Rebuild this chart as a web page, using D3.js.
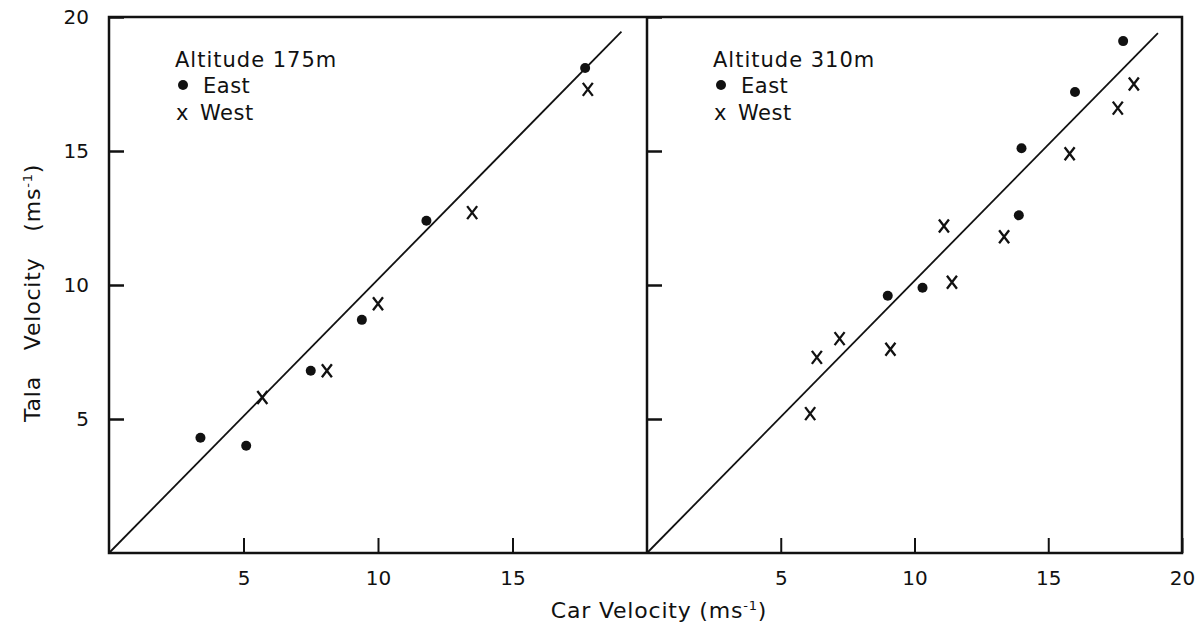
<!DOCTYPE html>
<html>
<head>
<meta charset="utf-8">
<script src="https://cdn.jsdelivr.net/npm/d3@7"></script>
<style>
  body { margin: 0; background: #fff; }
  svg text { font-family: "DejaVu Sans", sans-serif; fill: #111; }
</style>
</head>
<body>
<div id="chart"></div>
<script>
// Panel titles
var panelTitles = ["Altitude 175m", "Altitude 310m"];

// Altitude 175m: car velocity vs tala velocity
var eastCar175 = [3.4, 5.1, 7.5, 9.4, 11.8, 17.7];
var eastTala175 = [4.3, 4.0, 6.8, 8.7, 12.4, 18.1];
var westCar175 = [5.7, 8.1, 10.0, 13.5, 17.8];
var westTala175 = [5.8, 6.8, 9.3, 12.7, 17.3];
var fitCar175 = [0, 19.05];
var fitTala175 = [0, 19.45];

// Altitude 310m
var eastCar310 = [17.8, 16.0, 14.0, 13.9, 10.3, 9.0];
var eastTala310 = [19.1, 17.2, 15.1, 12.6, 9.9, 9.6];
var westCar310 = [18.2, 17.6, 15.8, 13.35, 11.1, 11.4, 9.1, 7.2, 6.35, 6.1];
var westTala310 = [17.5, 16.6, 14.9, 11.8, 12.2, 10.1, 7.6, 8.0, 7.3, 5.2];
var fitCar310 = [0, 19.1];
var fitTala310 = [0, 19.4];

// Tick values
var yTicks = [5, 10, 15, 20];
var xTicksLeft = [5, 10, 15];
var xTicksRight = [5, 10, 15, 20];

var svgW = 1199, svgH = 626;
var pLeft = 109, pMid = 647, pRight = 1182, pTop = 17, pBottom = 553;

var svg = d3.select("#chart").append("svg")
    .attr("width", svgW)
    .attr("height", svgH);

var y = d3.scaleLinear().domain([0, 20]).range([pBottom, pTop]);
var x1 = d3.scaleLinear().domain([0, 20]).range([pLeft, pMid]);
var x2 = d3.scaleLinear().domain([0, 20]).range([pMid, pRight]);

function zip(a, b) { return a.map(function (v, i) { return [v, b[i]]; }); }

var panels = [
  { x: x1, title: panelTitles[0], east: zip(eastCar175, eastTala175), west: zip(westCar175, westTala175),
    fit: zip(fitCar175, fitTala175), xticks: xTicksLeft, labels: true },
  { x: x2, title: panelTitles[1], east: zip(eastCar310, eastTala310), west: zip(westCar310, westTala310),
    fit: zip(fitCar310, fitTala310), xticks: xTicksRight, labels: false }
];

var line = d3.line();

panels.forEach(function (p) {
  var g = svg.append("g");

  // y axis (ticks point inward)
  var yAxis = d3.axisLeft(y).tickValues(yTicks).tickSizeInner(-15).tickSizeOuter(0).tickPadding(20);
  var ya = g.append("g").attr("transform", "translate(" + p.x(0) + ",0)").call(yAxis);
  ya.select(".domain").remove();
  ya.selectAll("text").style("font-size", "20px").attr("fill", "#111");
  if (!p.labels) ya.selectAll("text").remove();
  ya.selectAll("line").attr("stroke", "#111").attr("stroke-width", 2.5);

  // x axis
  var xAxis = d3.axisBottom(p.x).tickValues(p.xticks).tickSizeInner(-15).tickSizeOuter(0).tickPadding(18);
  var xa = g.append("g").attr("transform", "translate(0," + pBottom + ")").call(xAxis);
  xa.select(".domain").remove();
  xa.selectAll("text").style("font-size", "20px").attr("fill", "#111");
  xa.selectAll("line").attr("stroke", "#111").attr("stroke-width", 2);

  // fit line
  g.append("path")
    .attr("d", line(p.fit.map(function (d) { return [p.x(d[0]), y(d[1])]; })))
    .attr("fill", "none")
    .attr("stroke", "#111")
    .attr("stroke-width", 1.8);

  // east points
  g.selectAll(".east")
    .data(p.east)
    .enter().append("circle")
    .attr("cx", function (d) { return p.x(d[0]); })
    .attr("cy", function (d) { return y(d[1]); })
    .attr("r", 5)
    .attr("fill", "#111");

  // west points (x marks)
  g.selectAll(".west")
    .data(p.west)
    .enter().append("path")
    .attr("transform", function (d) { return "translate(" + p.x(d[0]) + "," + y(d[1]) + ")"; })
    .attr("d", "M-5,-6.5L5,6.5M5,-6.5L-5,6.5")
    .attr("stroke", "#111")
    .attr("stroke-width", 2.3)
    .attr("fill", "none");

  // legend
  var lx = p.x(0) + 66, ly = 67;
  var fs = "21px";
  g.append("text").attr("x", lx).attr("y", ly).style("font-size", fs).style("letter-spacing", "1px").text(p.title);
  g.append("circle").attr("cx", lx + 8).attr("cy", ly + 18).attr("r", 5).attr("fill", "#111");
  g.append("text").attr("x", lx + 28).attr("y", ly + 26).style("font-size", fs).style("letter-spacing", "0.5px").text("East");
  g.append("text").attr("x", lx + 1).attr("y", ly + 53).style("font-size", fs).text("x");
  g.append("text").attr("x", lx + 25).attr("y", ly + 53).style("font-size", fs).style("letter-spacing", "0.5px").text("West");
});

// frame
svg.append("rect")
  .attr("x", pLeft).attr("y", pTop)
  .attr("width", pRight - pLeft).attr("height", pBottom - pTop)
  .attr("fill", "none").attr("stroke", "#111").attr("stroke-width", 2.5);
svg.append("line")
  .attr("x1", pMid).attr("x2", pMid).attr("y1", pTop).attr("y2", pBottom)
  .attr("stroke", "#111").attr("stroke-width", 2.5);

// axis titles
var xt = svg.append("text")
  .attr("x", 659).attr("y", 618)
  .attr("text-anchor", "middle")
  .style("font-size", "22px")
  .style("letter-spacing", "0.8px");
xt.append("tspan").text("Car Velocity (ms");
xt.append("tspan").attr("dy", -8).style("font-size", "13px").text("-1");
xt.append("tspan").attr("dy", 8).text(")");

var yt = svg.append("text")
  .attr("transform", "translate(40,293) rotate(-90)")
  .attr("text-anchor", "middle")
  .style("font-size", "22px")
  .style("letter-spacing", "0.8px")
  .style("word-spacing", "18px");
yt.append("tspan").text("Tala Velocity (ms");
yt.append("tspan").attr("dy", -8).style("font-size", "13px").text("-1");
yt.append("tspan").attr("dy", 8).text(")");
</script>
</body>
</html>
